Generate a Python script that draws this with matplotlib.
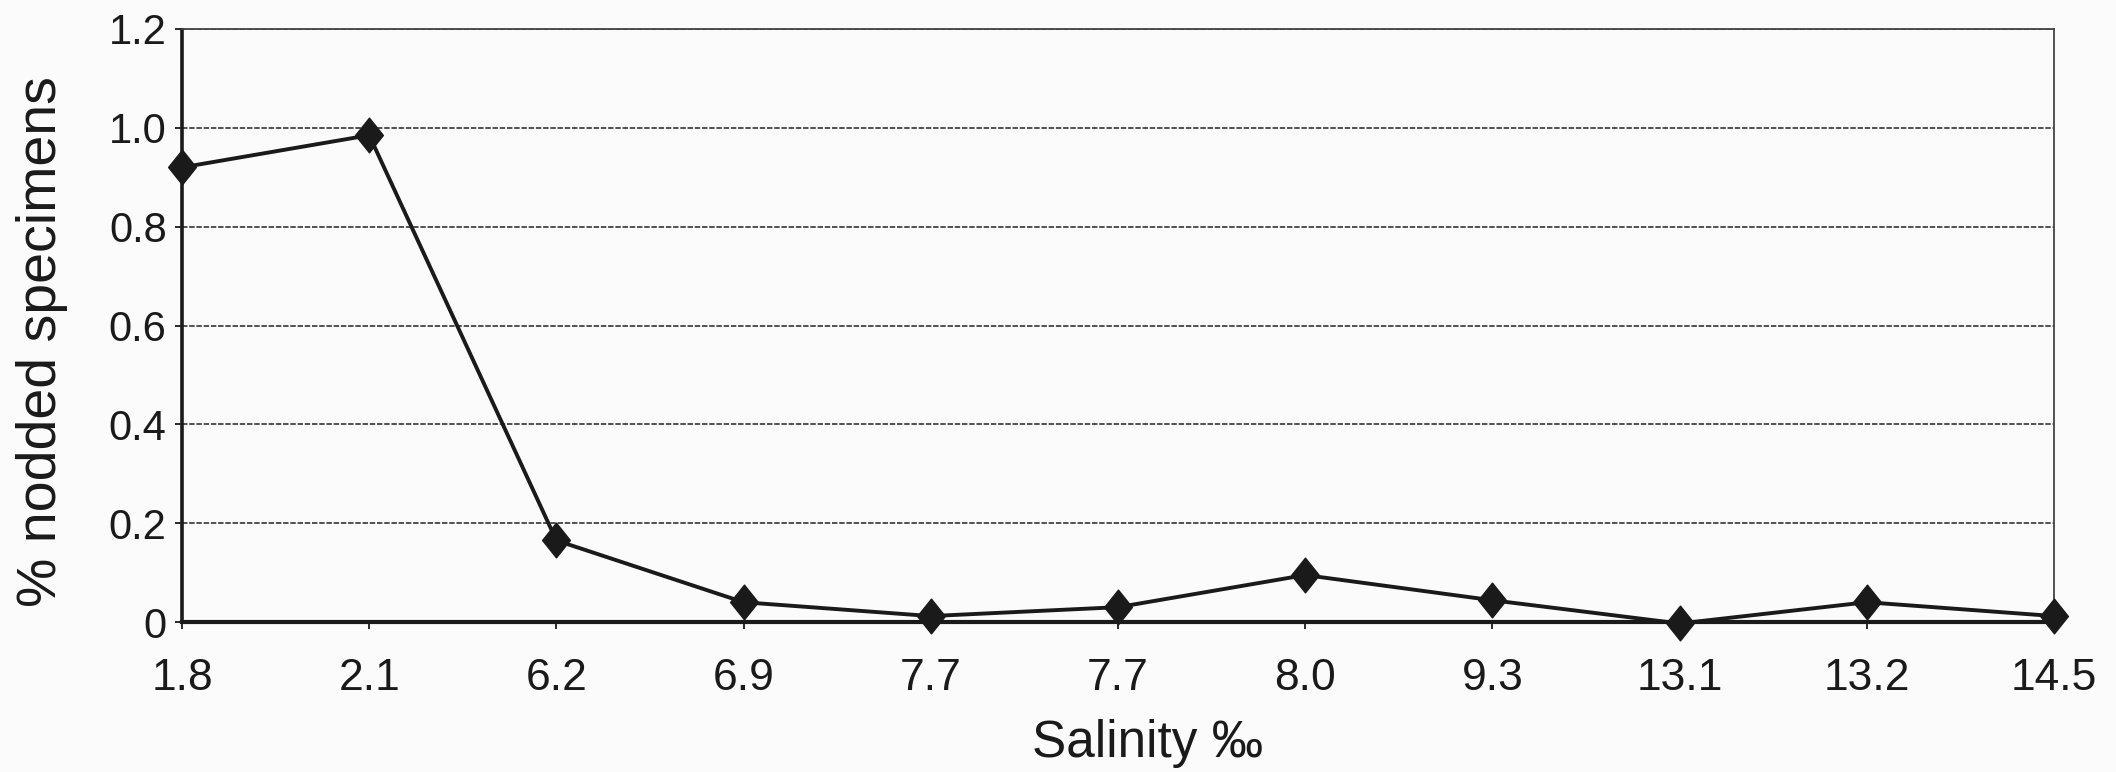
import matplotlib
matplotlib.use('Agg')
import matplotlib.pyplot as plt
from matplotlib.path import Path
import numpy as np

# data
salinity_labels = ['1.8', '2.1', '6.2', '6.9', '7.7', '7.7', '8.0', '9.3', '13.1', '13.2', '14.5']
nodded = [0.92, 0.985, 0.165, 0.04, 0.012, 0.03, 0.095, 0.044, -0.003, 0.04, 0.012]
y_ticks = [0, 0.2, 0.4, 0.6, 0.8, 1.0, 1.2]
y_tick_labels = ['0', '0.2', '0.4', '0.6', '0.8', '1.0', '1.2']

plt.rcParams['font.family'] = ['Liberation Sans', 'DejaVu Sans']
ink = '#1a1a1a'

# slightly tall diamond like the original marker
diamond = Path([(0, 1), (0.8, 0), (0, -1), (-0.8, 0), (0, 1)],
               [Path.MOVETO, Path.LINETO, Path.LINETO, Path.LINETO, Path.CLOSEPOLY])

W, H = 2116, 772
fig = plt.figure(figsize=(W / 100, H / 100), dpi=100, facecolor='#fbfbfb')
ax = fig.add_axes([182 / W, 1 - 622 / H, (2054 - 182) / W, (622 - 29) / H])
ax.set_facecolor('#fbfbfb')

x = np.arange(len(salinity_labels))
ax.plot(x, nodded, color=ink, lw=2.8, marker=diamond, ms=25,
        mfc=ink, mec=ink, clip_on=False, zorder=5)

ax.set_xlim(0, len(salinity_labels) - 1)
ax.set_ylim(0, 1.2)
ax.set_xticks(x)
ax.set_xticklabels(salinity_labels)
ax.set_yticks(y_ticks)
ax.set_yticklabels(y_tick_labels)

ax.yaxis.grid(True, color='#444444', lw=1.3, ls=(0, (3, 1)))
ax.set_axisbelow(True)

ax.spines['bottom'].set_linewidth(3)
ax.spines['bottom'].set_color(ink)
ax.spines['left'].set_linewidth(2.6)
ax.spines['left'].set_linestyle((0, (2, 1)))
ax.spines['left'].set_color(ink)
for s in ['top', 'right']:
    ax.spines[s].set_linewidth(1.3)
    ax.spines[s].set_linestyle((0, (3, 1)))
    ax.spines[s].set_color('#444444')

ax.tick_params(axis='x', labelsize=32, length=5, width=1.3, pad=21, colors=ink)
ax.tick_params(axis='y', labelsize=30, length=5, width=1.3, pad=6, colors=ink)

# axis titles placed as figure text to match the original offsets
fig.text(1148 / W, 1 - 757 / H, 'Salinity ‰', fontsize=37, color=ink,
         ha='center', va='baseline')
fig.text(42 / W, 1 - 342 / H, '% nodded specimens', fontsize=40, color=ink,
         rotation=90, ha='center', va='center')

plt.savefig('out.png', dpi=100, facecolor=fig.get_facecolor())
